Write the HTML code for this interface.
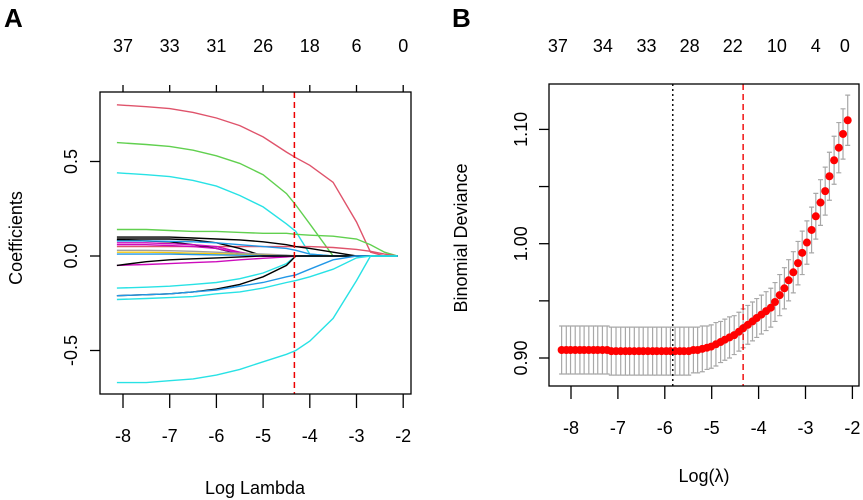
<!DOCTYPE html>
<html><head><meta charset="utf-8"><style>
body{margin:0;background:#fff;}
svg{display:block;font-family:"Liberation Sans",Arial,sans-serif;}
</style></head><body>
<svg id="chart" width="863" height="500" viewBox="0 0 863 500">
<text x="4" y="27" font-size="26" font-weight="bold">A</text>
<text x="452" y="27" font-size="26" font-weight="bold">B</text>
<g id="pa"></g>
<g id="pb"></g>
</svg>
<script>
// ---------- Panel A data ----------
const lambdaGrid = [-8.13,-7.5,-7,-6.5,-6,-5.5,-5,-4.5,-4.3,-4,-3.5,-3,-2.7,-2.4,-2.12];
const pathColors = ['#DF536B','#61D04F','#28E2E5','#61D04F','#DF536B','#000000','#000000','#000000','#2297E6','#CD0BBC','#CD0BBC','#9E9E9E','#F5C710','#2297E6','#CD0BBC','#000000','#28E2E5','#000000','#2297E6','#28E2E5','#28E2E5'];
const pathValues = [
 [0.80,0.79,0.78,0.76,0.73,0.69,0.63,0.55,0.52,0.48,0.39,0.18,0.02,0,0],
 [0.60,0.59,0.58,0.56,0.53,0.49,0.43,0.33,0.27,0.17,0,0,0,0,0],
 [0.44,0.43,0.42,0.40,0.37,0.32,0.26,0.17,0.13,0.01,0,0,0,0,0],
 [0.14,0.14,0.135,0.13,0.13,0.125,0.12,0.12,0.115,0.11,0.105,0.09,0.06,0.02,0],
 [0.05,0.05,0.05,0.05,0.05,0.05,0.05,0.05,0.05,0.05,0.045,0.035,0.025,0.01,0],
 [0.10,0.10,0.10,0.095,0.09,0.085,0.075,0.06,0.05,0.04,0.02,0,0,0,0],
 [0.09,0.09,0.09,0.085,0.07,0.04,0,0,0,0,0,0,0,0,0],
 [0.085,0.08,0.075,0.06,0.04,0.01,0,0,0,0,0,0,0,0,0],
 [0.08,0.08,0.078,0.075,0.07,0.06,0.05,0.04,0.03,0.01,0,0,0,0,0],
 [0.07,0.07,0.065,0.06,0.05,0.02,0,0,0,0,0,0,0,0,0],
 [0.06,0.06,0.055,0.05,0.04,0.015,0,0,0,0,0,0,0,0,0],
 [0.03,0.03,0.028,0.025,0.02,0.015,0.01,0.005,0,0,0,0,0,0,0],
 [0.02,0.02,0.018,0.015,0.012,0.008,0.004,0,0,0,0,0,0,0,0],
 [0.01,0.01,0.01,0.008,0.006,0.004,0.002,0,0,0,0,0,0,0,0],
 [-0.05,-0.045,-0.04,-0.035,-0.03,-0.02,-0.012,-0.005,0,0,0,0,0,0,0],
 [-0.05,-0.03,-0.02,-0.015,-0.01,-0.005,0,0,0,0,0,0,0,0,0],
 [-0.17,-0.165,-0.16,-0.15,-0.14,-0.12,-0.09,-0.04,0,0,0,0,0,0,0],
 [-0.21,-0.205,-0.2,-0.19,-0.175,-0.15,-0.11,-0.05,0,0,0,0,0,0,0],
 [-0.21,-0.205,-0.2,-0.19,-0.18,-0.16,-0.14,-0.11,-0.1,-0.07,-0.02,0,0,0,0],
 [-0.23,-0.225,-0.22,-0.215,-0.2,-0.19,-0.17,-0.14,-0.13,-0.11,-0.07,-0.01,0,0,0],
 [-0.67,-0.67,-0.66,-0.65,-0.63,-0.60,-0.56,-0.52,-0.50,-0.45,-0.33,-0.13,0,0,0]
];
const aXTicks = [-8,-7,-6,-5,-4,-3,-2];
const aYTicks = [0.5,0,-0.5];
const aYTickLabels = ['0.5','0.0','-0.5'];
const aTopLabels = ['37','33','31','26','18','6','0'];
const aLambdaMin = -4.33;

// ---------- Panel B data ----------
const cvLambda = [-8.20,-8.10,-8.01,-7.91,-7.81,-7.72,-7.62,-7.52,-7.43,-7.33,-7.23,-7.14,-7.04,-6.94,-6.84,-6.75,-6.65,-6.55,-6.46,-6.36,-6.26,-6.17,-6.07,-5.97,-5.88,-5.78,-5.68,-5.59,-5.49,-5.39,-5.30,-5.20,-5.10,-5.01,-4.91,-4.81,-4.72,-4.62,-4.52,-4.42,-4.33,-4.23,-4.13,-4.04,-3.94,-3.84,-3.74,-3.65,-3.55,-3.45,-3.36,-3.26,-3.16,-3.07,-2.97,-2.87,-2.78,-2.68,-2.58,-2.49,-2.39,-2.29,-2.20,-2.10];
const cvDeviance = [0.907,0.907,0.907,0.907,0.907,0.907,0.907,0.907,0.907,0.907,0.907,0.906,0.906,0.906,0.906,0.906,0.906,0.906,0.906,0.906,0.906,0.906,0.906,0.906,0.906,0.906,0.906,0.906,0.906,0.907,0.907,0.908,0.909,0.910,0.912,0.914,0.916,0.918,0.920,0.923,0.926,0.929,0.932,0.935,0.938,0.941,0.944,0.949,0.955,0.961,0.968,0.975,0.983,0.992,1.001,1.012,1.024,1.036,1.046,1.059,1.073,1.084,1.096,1.108];
const cvSE = [0.021,0.021,0.021,0.021,0.021,0.021,0.021,0.021,0.021,0.021,0.021,0.021,0.021,0.021,0.021,0.021,0.021,0.021,0.021,0.021,0.021,0.021,0.021,0.021,0.021,0.021,0.021,0.021,0.021,0.020,0.020,0.020,0.019,0.019,0.019,0.018,0.018,0.018,0.017,0.017,0.017,0.017,0.017,0.017,0.017,0.017,0.017,0.017,0.018,0.018,0.018,0.018,0.019,0.019,0.019,0.020,0.020,0.020,0.021,0.021,0.021,0.022,0.022,0.022];
const bXTicks = [-8,-7,-6,-5,-4,-3,-2];
const bYTicks = [0.90,0.95,1.00,1.05,1.10];
const bYTickLabels = ['0.90','','1.00','','1.10'];
const bTopLambda = [-8.28,-7.32,-6.39,-5.47,-4.55,-3.61,-2.78,-2.16];
const bTopLabels = ['37','34','33','28','22','10','4','0'];
const bLambdaMin = -5.83;
const bLambda1se = -4.33;

const NS='http://www.w3.org/2000/svg';
function mk(parent,tag,attrs,text){const e=document.createElementNS(NS,tag);for(const k in attrs)e.setAttribute(k,attrs[k]);if(text!==undefined)e.textContent=text;parent.appendChild(e);return e;}

// ---------- Panel A ----------
const pa=document.getElementById('pa');
const axA=v=>123+(v+8)*46.7;
const ayA=v=>256-v*189;
const A={l:100,r:411,t:92,b:394};
for(let i=0;i<pathValues.length;i++){
  const pts=lambdaGrid.map((l,j)=>axA(l).toFixed(1)+','+ayA(pathValues[i][j]).toFixed(1)).join(' ');
  const pl=mk(pa,'polyline',{points:pts,fill:'none',stroke:pathColors[i],'stroke-width':1.4});
  
  
}
const vA=mk(pa,'line',{x1:axA(aLambdaMin),x2:axA(aLambdaMin),y1:A.t,y2:A.b,stroke:'#e00',"stroke-width":1.5,'stroke-dasharray':'6,4'});


const boxA=mk(pa,'rect',{x:A.l,y:A.t,width:A.r-A.l,height:A.b-A.t,fill:'none',stroke:'#000','stroke-width':1.3});


aXTicks.forEach((t,i)=>{
  const x=axA(t);
  mk(pa,'line',{x1:x,x2:x,y1:A.b,y2:A.b+14,stroke:'#000','stroke-width':1.3});
  const tl=mk(pa,'text',{x:x,y:442,'font-size':18,'text-anchor':'middle'},String(t));
  
  
  mk(pa,'line',{x1:x,x2:x,y1:A.t,y2:A.t-7,stroke:'#000','stroke-width':1.3});
  const tt=mk(pa,'text',{x:x,y:52,'font-size':18,'text-anchor':'middle'},aTopLabels[i]);
  
  
});
aYTicks.forEach((t,i)=>{
  const y=ayA(t);
  mk(pa,'line',{x1:A.l,x2:A.l-10,y1:y,y2:y,stroke:'#000','stroke-width':1.3});
  const yl=mk(pa,'text',{x:0,y:0,'font-size':18,'text-anchor':'middle',transform:`translate(77,${y}) rotate(-90)`},aYTickLabels[i]);
  
  
});
const xtA=mk(pa,'text',{x:255,y:494,'font-size':18,'text-anchor':'middle'},'Log Lambda');


const ytA=mk(pa,'text',{x:0,y:0,'font-size':18,'text-anchor':'middle',transform:'translate(22,238) rotate(-90)'},'Coefficients');



// ---------- Panel B ----------
const pb=document.getElementById('pb');
const axB=v=>571+(v+8)*46.9;
const ayB=v=>358-(v-0.90)*1143;
const B={l:549,r:859,t:84,b:386};
cvLambda.forEach((l,i)=>{
  const x=axB(l),hi=ayB(cvDeviance[i]+cvSE[i]),lo=ayB(cvDeviance[i]-cvSE[i]);
  const g=mk(pb,'path',{d:`M${x},${hi}V${lo}M${x-2.5},${hi}H${x+2.5}M${x-2.5},${lo}H${x+2.5}`,stroke:'#a8a8a8','stroke-width':1.2,fill:'none'});
  
  
});
cvLambda.forEach((l,i)=>{
  const c=mk(pb,'circle',{cx:axB(l),cy:ayB(cvDeviance[i]),r:4,fill:'#f00'});
  
  
});
const vB1=mk(pb,'line',{x1:axB(bLambdaMin),x2:axB(bLambdaMin),y1:B.t,y2:B.b,stroke:'#000','stroke-width':1.4,'stroke-dasharray':'2,3'});


const vB2=mk(pb,'line',{x1:axB(bLambda1se),x2:axB(bLambda1se),y1:B.t,y2:B.b,stroke:'#e00','stroke-width':1.4,'stroke-dasharray':'6,4'});


const boxB=mk(pb,'rect',{x:B.l,y:B.t,width:B.r-B.l,height:B.b-B.t,fill:'none',stroke:'#000','stroke-width':1.3});


bXTicks.forEach(t=>{
  const x=axB(t);
  mk(pb,'line',{x1:x,x2:x,y1:B.b,y2:B.b+13,stroke:'#000','stroke-width':1.3});
  const tl=mk(pb,'text',{x:x,y:434,'font-size':18,'text-anchor':'middle'},String(t));
  
  
});
bTopLambda.forEach((l,i)=>{
  const tt=mk(pb,'text',{x:axB(l),y:52,'font-size':18,'text-anchor':'middle'},bTopLabels[i]);
  
  
});
bYTicks.forEach((t,i)=>{
  const y=ayB(t);
  mk(pb,'line',{x1:B.l,x2:B.l-10,y1:y,y2:y,stroke:'#000','stroke-width':1.3});
  if(bYTickLabels[i]){
    const yl=mk(pb,'text',{x:0,y:0,'font-size':18,'text-anchor':'middle',transform:`translate(527,${y}) rotate(-90)`},bYTickLabels[i]);
    
    
  }
});
const xtB=mk(pb,'text',{x:704,y:482,'font-size':18,'text-anchor':'middle'},'Log(λ)');


const ytB=mk(pb,'text',{x:0,y:0,'font-size':18,'text-anchor':'middle',transform:'translate(467,238) rotate(-90)'},'Binomial Deviance');


</script>
</body></html>
